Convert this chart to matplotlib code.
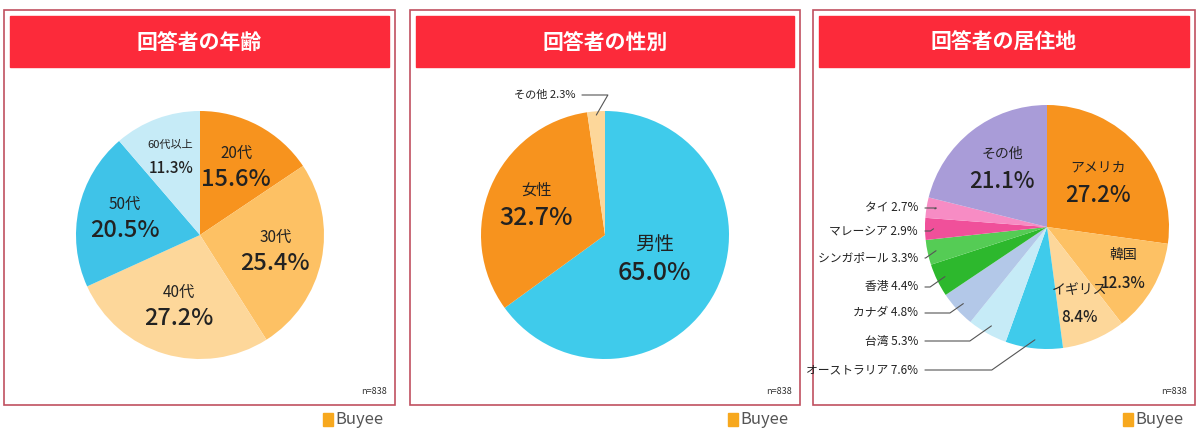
import matplotlib

matplotlib.use("Agg")

import matplotlib.pyplot as plt
import numpy as np
from matplotlib.patches import Rectangle

plt.rcParams["font.family"] = ["Noto Sans CJK JP", "DejaVu Sans"]

W, H = 1200, 442

age_labels = ["20代", "30代", "40代", "50代", "60代以上"]
age_values = [15.6, 25.4, 27.2, 20.5, 11.3]
age_colors = ["#f7931e", "#fdc164", "#fdd79a", "#3fc3e8", "#c6ebf7"]

sex_labels = ["男性", "女性", "その他"]
sex_values = [65.0, 32.7, 2.3]
sex_colors = ["#3fcbeb", "#f7931e", "#fdd79a"]

area_labels = ["アメリカ", "韓国", "イギリス", "オーストラリア", "台湾", "カナダ",
               "香港", "シンガポール", "マレーシア", "タイ", "その他"]
area_values = [27.2, 12.3, 8.4, 7.6, 5.3, 4.8, 4.4, 3.3, 2.9, 2.7, 21.1]
area_colors = ["#f7931e", "#fdc164", "#fdd79a", "#3fcbeb", "#c6ebf7", "#b3c8e8",
               "#2db82d", "#55cc55", "#f0509a", "#f78cc4", "#a99cd8"]

titles = ["回答者の年齢", "回答者の性別", "回答者の居住地"]
panels = [(4, 395), (410, 800), (813, 1195)]

fig = plt.figure(figsize=(W / 100, H / 100), dpi=100)
bg = fig.add_axes([0, 0, 1, 1])
bg.set_xlim(0, W)
bg.set_ylim(H, 0)
bg.axis("off")

for (x0, x1), title in zip(panels, titles):
    bg.add_patch(Rectangle((x0, 10), x1 - x0, 395, fill=False, ec="#c05060", lw=1.2))
    bg.add_patch(Rectangle((x0 + 6, 16), x1 - x0 - 12, 51, color="#fc2a3a"))
    bg.text((x0 + x1) / 2, 42, title, color="white", fontsize=15, fontweight="bold",
            ha="center", va="center")
    bg.text(x1 - 8, 392, "n=838", fontsize=6.5, ha="right", va="center", color="#333")
    bg.add_patch(Rectangle((x1 - 72, 413), 10, 13, color="#f7a81e"))
    bg.text(x1 - 60, 420, "Buyee", fontsize=12, ha="left", va="center", color="#555")


def pie_axes(cx, cy, r):
    ax = fig.add_axes([(cx - r) / W, 1 - (cy + r) / H, 2 * r / W, 2 * r / H])
    ax.axis("off")
    return ax


def draw_pie(ax, values, colors):
    wedges, _ = ax.pie(values, colors=colors, startangle=90, counterclock=False,
                       radius=1, wedgeprops=dict(lw=0))
    ax.set_xlim(-1, 1)
    ax.set_ylim(-1, 1)
    mids = [np.deg2rad((w.theta1 + w.theta2) / 2) for w in wedges]
    return mids


def to_data(px, py, cx, cy, r):
    return (px - cx) / r, (cy - py) / r


# age
ax = pie_axes(200, 235, 124)
mids = draw_pie(ax, age_values, age_colors)
age_pos = [0.62, 0.62, 0.6, 0.62, 0.68]
for lab, v, a, f in zip(age_labels, age_values, mids, age_pos):
    x, y = f * np.cos(a), f * np.sin(a)
    small = lab == "60代以上"
    ax.text(x, y + (0.09 if small else 0.11), lab, ha="center", va="center",
            fontsize=8 if small else 11, color="#222")
    ax.text(x, y - 0.1, f"{v}%", ha="center", va="center", fontsize=11 if small else 17,
            color="#222", fontweight="medium")

# sex
cx, cy, r = 605, 235, 124
ax = pie_axes(cx, cy, r)
mids = draw_pie(ax, sex_values, sex_colors)
for lab, v, a, f in zip(sex_labels[:2], sex_values[:2], mids[:2], [0.45, 0.6]):
    x, y = f * np.cos(a), f * np.sin(a)
    ax.text(x, y + 0.13, lab, ha="center", va="center", fontsize=14 if lab == "男性" else 11, color="#222")
    ax.text(x, y - 0.1, f"{v}%", ha="center", va="center", fontsize=18, color="#222",
            fontweight="medium")
a = mids[2]
tx, ty = to_data(575, 95, cx, cy, r)
ax.annotate(f"{sex_labels[2]} {sex_values[2]}%", xy=(0.97 * np.cos(a), 0.97 * np.sin(a)),
            xytext=(tx, ty), ha="right", va="center", fontsize=8, color="#222",
            arrowprops=dict(arrowstyle="-", color="#555", lw=0.8, shrinkA=3, shrinkB=0,
                            connectionstyle="angle,angleA=0,angleB=60"),
            annotation_clip=False)

# area
cx, cy, r = 1047, 227, 122
ax = pie_axes(cx, cy, r)
mids = draw_pie(ax, area_values, area_colors)
big = {0: (0.55, 16), 1: (0.72, 11), 2: (0.7, 11), 10: (0.6, 16)}
for i, (f, fs) in big.items():
    a = mids[i]
    x, y = f * np.cos(a), f * np.sin(a)
    ax.text(x, y + 0.13, area_labels[i], ha="center", va="center", fontsize=10, color="#222")
    ax.text(x, y - 0.1, f"{area_values[i]}%", ha="center", va="center", fontsize=fs,
            color="#222", fontweight="medium")
label_y = {9: 208, 8: 231, 7: 258, 6: 287, 5: 313, 4: 341, 3: 370}
for i, py in label_y.items():
    a = mids[i]
    tx, ty = to_data(918, py, cx, cy, r)
    ax.annotate(f"{area_labels[i]} {area_values[i]}%", xy=(0.93 * np.cos(a), 0.93 * np.sin(a)),
                xytext=(tx, ty), ha="right", va="center", fontsize=8.5, color="#222",
                arrowprops=dict(arrowstyle="-", color="#555", lw=0.8, shrinkA=3, shrinkB=0,
                                connectionstyle="angle,angleA=0,angleB=35"),
                annotation_clip=False)

fig.savefig("out.png", dpi=100)
